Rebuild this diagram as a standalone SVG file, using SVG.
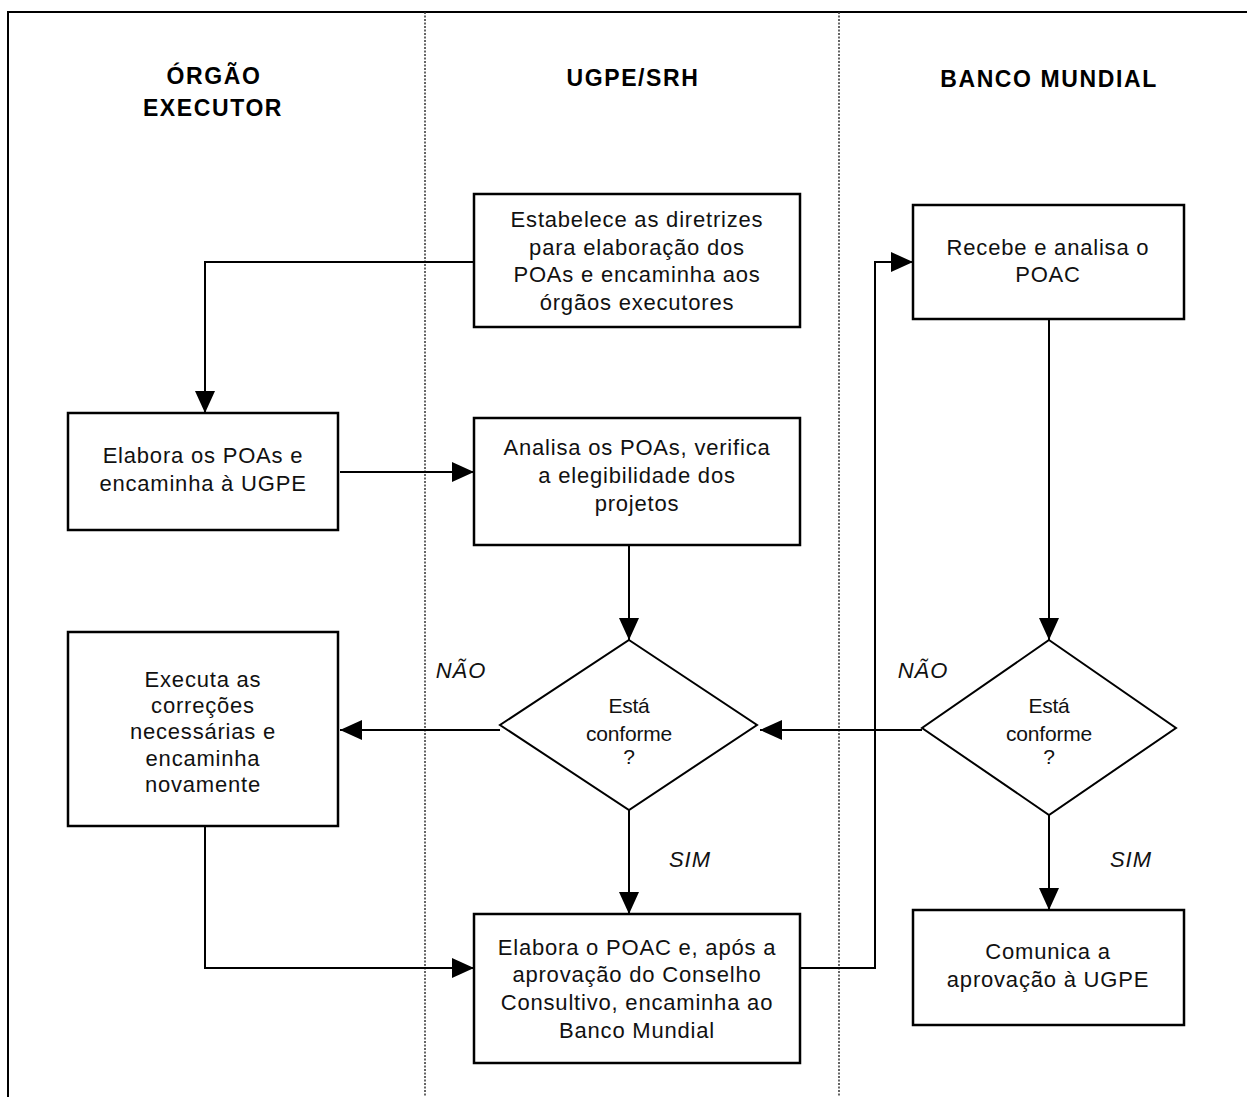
<svg xmlns="http://www.w3.org/2000/svg" width="1247" height="1097" viewBox="0 0 1247 1097">
<style>
.hdr{font-family:"Liberation Sans",Arial,sans-serif;font-weight:bold;font-size:23px;letter-spacing:1.6px;text-anchor:middle;fill:#000}
.t{font-family:"Liberation Sans",Arial,sans-serif;font-size:22px;letter-spacing:0.8px;text-anchor:middle;fill:#111}
.d{font-family:"Liberation Sans",Arial,sans-serif;font-size:21px;letter-spacing:-0.2px;text-anchor:middle;fill:#111}
.lbl{font-family:"Liberation Sans",Arial,sans-serif;font-size:22px;font-style:italic;letter-spacing:1px;text-anchor:middle;fill:#111}
.box{fill:#fff;stroke:#000;stroke-width:2.5}
.dia{fill:#fff;stroke:#000;stroke-width:2}
.con{fill:none;stroke:#000;stroke-width:2}
.frame{fill:none;stroke:#000;stroke-width:2}
.lane{fill:none;stroke:#333;stroke-width:1.5;stroke-dasharray:2 1.5}
</style>
<defs>
<marker id="arr" markerUnits="userSpaceOnUse" markerWidth="22" markerHeight="20" refX="22" refY="10" orient="auto">
<path d="M0,0 L22,10 L0,20 Z" fill="#000"/>
</marker>
</defs>
<rect width="1247" height="1097" fill="#fff"/>
<g id="frame">
<path class="frame" d="M8,1097 L8,12 L1247,12"/>
<line class="lane" x1="425" y1="12" x2="425" y2="1097"/>
<line class="lane" x1="839" y1="12" x2="839" y2="1097"/>
</g>
<g id="headers">
<text class="hdr" x="214" y="84">ÓRGÃO</text>
<text class="hdr" x="213" y="116">EXECUTOR</text>
<text class="hdr" x="633" y="86">UGPE/SRH</text>
<text class="hdr" x="1049" y="87">BANCO MUNDIAL</text>
</g>
<g id="connectors">
<path class="con" d="M474,262 L205,262 L205,413" marker-end="url(#arr)"/>
<path class="con" d="M340,472 L474,472" marker-end="url(#arr)"/>
<path class="con" d="M629,545 L629,640" marker-end="url(#arr)"/>
<path class="con" d="M500,730 L340,730" marker-end="url(#arr)"/>
<path class="con" d="M629,810 L629,914" marker-end="url(#arr)"/>
<path class="con" d="M205,826 L205,968 L474,968" marker-end="url(#arr)"/>
<path class="con" d="M800,968 L875,968 L875,262 L913,262" marker-end="url(#arr)"/>
<path class="con" d="M1049,319 L1049,640" marker-end="url(#arr)"/>
<path class="con" d="M922,730 L760,730" marker-end="url(#arr)"/>
<path class="con" d="M1049,815 L1049,910" marker-end="url(#arr)"/>
<text class="lbl" x="461" y="678">NÃO</text>
<text class="lbl" x="923" y="678">NÃO</text>
<text class="lbl" x="690" y="867">SIM</text>
<text class="lbl" x="1131" y="867">SIM</text>
</g>
<g id="n_estabelece">
<rect class="box" x="474" y="194" width="326" height="133"/>
<text class="t" x="637" y="227">Estabelece as diretrizes</text>
<text class="t" x="637" y="254.5">para elaboração dos</text>
<text class="t" x="637" y="282">POAs e encaminha aos</text>
<text class="t" x="637" y="309.5">órgãos executores</text>
</g>
<g id="n_recebe">
<rect class="box" x="913" y="205" width="271" height="114"/>
<text class="t" x="1048" y="255">Recebe e analisa o</text>
<text class="t" x="1048" y="282">POAC</text>
</g>
<g id="n_elabora_poas">
<rect class="box" x="68" y="413" width="270" height="117"/>
<text class="t" x="203" y="463">Elabora os POAs e</text>
<text class="t" x="203" y="491">encaminha à UGPE</text>
</g>
<g id="n_analisa">
<rect class="box" x="474" y="418" width="326" height="127"/>
<text class="t" x="637" y="455">Analisa os POAs, verifica</text>
<text class="t" x="637" y="483">a elegibilidade dos</text>
<text class="t" x="637" y="511">projetos</text>
</g>
<g id="n_dec1">
<polygon class="dia" points="629,640 757,725 629,810 500,725"/>
<text class="d" x="629" y="713">Está</text>
<text class="d" x="629" y="741">conforme</text>
<text class="d" x="629" y="764">?</text>
</g>
<g id="n_dec2">
<polygon class="dia" points="1049,640 1176,728 1049,815 922,728"/>
<text class="d" x="1049" y="713">Está</text>
<text class="d" x="1049" y="741">conforme</text>
<text class="d" x="1049" y="764">?</text>
</g>
<g id="n_executa">
<rect class="box" x="68" y="632" width="270" height="194"/>
<text class="t" x="203" y="687">Executa as</text>
<text class="t" x="203" y="713">correções</text>
<text class="t" x="203" y="739">necessárias e</text>
<text class="t" x="203" y="765.5">encaminha</text>
<text class="t" x="203" y="792">novamente</text>
</g>
<g id="n_poac">
<rect class="box" x="474" y="914" width="326" height="149"/>
<text class="t" x="637" y="955">Elabora o POAC e, após a</text>
<text class="t" x="637" y="982">aprovação do Conselho</text>
<text class="t" x="637" y="1010">Consultivo, encaminha ao</text>
<text class="t" x="637" y="1038">Banco Mundial</text>
</g>
<g id="n_comunica">
<rect class="box" x="913" y="910" width="271" height="115"/>
<text class="t" x="1048" y="959">Comunica a</text>
<text class="t" x="1048" y="987">aprovação à UGPE</text>
</g>
</svg>
